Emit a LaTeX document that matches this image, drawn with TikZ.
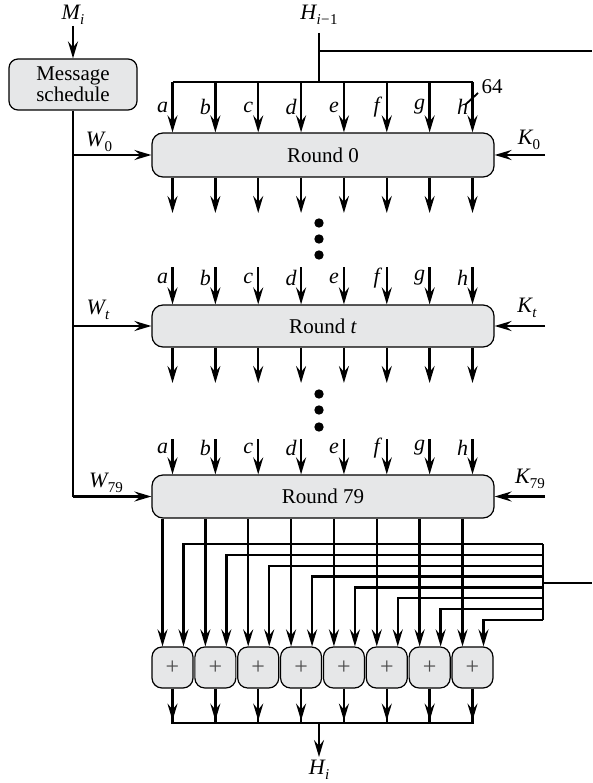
\documentclass[tikz,border=0pt]{standalone}
\usepackage{fontspec}
\setmainfont{Liberation Serif}
\usetikzlibrary{arrows.meta}
\definecolor{boxfill}{HTML}{E6E7E8}
\tikzset{
  wire/.style={line width=2.4pt},
  arr/.style={wire,-{Stealth[length=17pt,width=10pt,inset=6pt]}},
  rbox/.style={draw, line width=1.2pt, fill=boxfill, rounded corners=11pt, inner sep=0pt,
    font=\fontsize{21}{24}\selectfont},
  lbl/.style={font=\fontsize{22}{24}\selectfont\itshape, inner sep=0pt},
}
\newcommand\lsub[2]{#1\kern0.3pt\raisebox{-0.45ex}{\fontsize{15}{15}\selectfont #2}}
\begin{document}
\begin{tikzpicture}[x=1pt,y=-1pt]
\useasboundingbox (0,0) rectangle (592,783);
% message schedule
\node[rbox, minimum width=128pt, minimum height=51pt, align=center, rounded corners=9pt] (ms) at (73,84.5) {Message\\[-3pt]schedule};
\node[lbl] (Mi) at (73,15) {\lsub{M}{i}};
\coordinate (Mtop) at (73,26);
\draw[arr] (Mtop) -- (ms.north);
% rounds
\node[rbox, minimum width=342pt, minimum height=44pt] (r0) at (323,155) {Round 0};
\node[rbox, minimum width=342pt, minimum height=42pt] (rt) at (323,326) {Round \textit{t}};
\node[rbox, minimum width=342pt, minimum height=43pt] (r79) at (323,496.5) {Round 79};
% W lines
\coordinate (wbot) at (73,496.5);
\draw[wire] (ms.south) -- (wbot);
\draw[arr] (wbot) -- (r79.west);
\draw[arr] (ms.south |- r0.west) -- (r0.west);
\draw[arr] (ms.south |- rt.west) -- (rt.west);
\node[lbl] (W0) at (99,142) {\lsub{W}{\upshape 0}};
\node[lbl] (Wt) at (98,310) {\lsub{W}{t}};
\node[lbl] (W79) at (106,483) {\lsub{W}{\upshape 79}};
% K lines
\coordinate (K0s) at (545,155);
\coordinate (Kts) at (545,326);
\coordinate (K79s) at (545,496.5);
\draw[arr] (K0s) -- (r0.east);
\draw[arr] (Kts) -- (rt.east);
\draw[arr] (K79s) -- (r79.east);
\node[lbl] (K0) at (529,140) {\lsub{K}{\upshape 0}};
\node[lbl] (Kt) at (527,308) {\lsub{K}{t}};
\node[lbl] (K79) at (530,479) {\lsub{K}{\upshape 79}};
% H_{i-1}
\node[lbl] (Hm) at (319,15) {\lsub{H}{i\kern0.5pt\upshape −\kern0.5pt1}};
\coordinate (Htop) at (319,33);
\coordinate (Hbar) at (319,82);
\coordinate (Hbr) at (319,51);
\coordinate (Hout) at (592,51);
\draw[wire] (Htop) -- (Hbar);
\draw[wire] (Hbr) -- (Hout);
\draw[wire] (172.5,82) -- (472.5,82);
% inputs and outputs of rounds
\foreach \l [count=\i from 0] in {a,b,c,d,e,f,g,h}{
  \pgfmathsetmacro{\x}{172.5+42.857*\i}
  \draw[arr] (\x,82) -- (\x,0 |- r0.north);
  \node[lbl] (la\i) at (\x-10,107) {\l};
  \draw[arr] (\x,0 |- r0.south) -- (\x,213);
  \draw[arr] (\x,267) -- (\x,0 |- rt.north);
  \node[lbl] (lb\i) at (\x-10,278) {\l};
  \draw[arr] (\x,0 |- rt.south) -- (\x,383);
  \draw[arr] (\x,439) -- (\x,0 |- r79.north);
  \node[lbl] (lc\i) at (\x-10,448) {\l};
}
% 64 marker
\draw[line width=1.8pt] (465,105) -- (478,93);
\node[font=\fontsize{21}{22}\selectfont, inner sep=0pt] (n64) at (492,87) {64};
% dots
\foreach \n/\yy in {1/223,2/239,3/255,4/394,5/410,6/427}{
  \fill (319,\yy) circle (4.7pt);
}
% adders
\foreach \i in {0,...,7}{
  \node[rbox, minimum width=41pt, minimum height=41pt, rounded corners=10pt,
    font=\fontsize{24}{24}\selectfont\color{black!70}] (add\i) at (172.5+42.857*\i,667.5) {+};
}
% feedback
\coordinate (fbt) at (543,544);
\coordinate (fbb) at (543,620);
\coordinate (fbm) at (543,583);
\coordinate (fbo) at (592,583);
\draw[wire] (fbt) -- (fbb);
\draw[wire] (fbm) -- (fbo);
\foreach \i in {0,...,7}{
  \pgfmathsetmacro{\x}{172.5+42.857*\i}
  \pgfmathsetmacro{\y}{544+10.857*\i}
  \draw[arr] (\x-10,0 |- r79.south) -- ([xshift=-10pt]add\i.north);
  \draw[arr] (543,\y) -| ([xshift=11pt]add\i.north);
  \draw[arr] (add\i.south) -- ++(0,32);
  \draw[wire] (add\i.south) -- ++(0,35.5);
}
\coordinate (bus) at (319,723);
\coordinate (busend) at (319,757);
\draw[wire] (add0.south |- bus) -- (add7.south |- bus);
\node[lbl, anchor=north] (Hi) at (319,760) {\lsub{H}{i}};
\draw[arr] (bus) -- (busend);
\end{tikzpicture}
\end{document}
